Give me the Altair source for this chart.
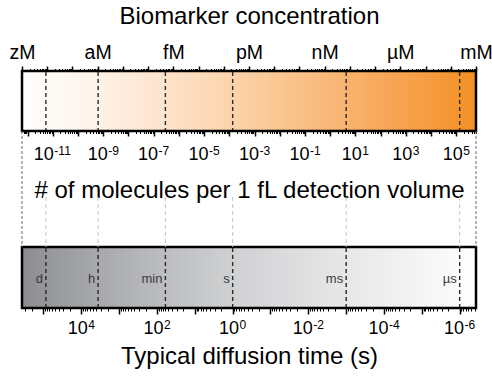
import json
import altair as alt
import pandas as pd

# ---------------- data ----------------
conc_units = ["zM", "aM", "fM", "pM", "nM", "µM", "mM"]
conc_unit_exps = [-21, -18, -15, -12, -9, -6, -3]
conc_domain = [1e-21, 1e-3]            # mol/L
molecules_per_M_fL = 6.022e8           # molecules in 1 fL at 1 M
mol_domain = [conc_domain[0] * molecules_per_M_fL, conc_domain[1] * molecules_per_M_fL]
mol_label_exps = [-11, -9, -7, -5, -3, -1, 1, 3, 5]
time_domain = [3.7e-7, 3.7e5]          # seconds (right end, left end)
time_label_exps = [4, 2, 0, -2, -4, -6]
time_marks = ["d", "h", "min", "s", "ms", "µs"]
time_mark_values = [86400, 3600, 60, 1, 1e-3, 1e-6]

FONT = "Liberation Sans"


def decades(lo, hi):
    return [10.0 ** e for e in range(lo, hi + 1)]


def minors(lo, hi, dmin, dmax):
    out = []
    for e in range(lo, hi + 1):
        for k in range(2, 10):
            v = k * 10.0 ** e
            if dmin <= v <= dmax:
                out.append(v)
    return out


# ---------------- layout (pixels in plot area) ----------------
W, H = 454, 237
OR_TOP, OR_BOT = 0, 60
GR_TOP, GR_BOT = 176, 237
MID_TOP = 126

conc_scale = alt.Scale(type="log", domain=conc_domain, nice=False)
mol_scale = alt.Scale(type="log", domain=mol_domain, nice=False)
time_scale = alt.Scale(type="log", domain=time_domain, reverse=True, nice=False)

ORANGE_STOPS = [(0.0, "#fefefe"), (0.15, "#fdf4eb"), (0.33, "#fde2c8"), (0.5, "#fbcfa2"),
                (0.67, "#f9b97a"), (0.83, "#f7a350"), (0.96, "#f5952f"), (1.0, "#f39023")]
GREY_STOPS = [(0.0, "#8b8c90"), (0.05, "#95969a"), (0.17, "#a8a9ac"), (0.32, "#bdbec1"),
              (0.46, "#cfd0d2"), (0.71, "#e7e7e8"), (0.96, "#fbfbfb"), (1.0, "#ffffff")]


def grad(stops):
    return alt.LinearGradient(gradient="linear",
                              stops=[alt.GradientStop(color=c, offset=o) for o, c in stops],
                              x1=0, x2=1, y1=0, y2=0)


# ---------------- bars ----------------
orange = alt.Chart(pd.DataFrame({"a": [conc_domain[0]], "b": [conc_domain[1]]})).mark_rect(
    fill=grad(ORANGE_STOPS), stroke="black", strokeWidth=2.5
).encode(x=alt.X("a:Q", scale=conc_scale, axis=None), x2="b:Q",
         y=alt.value(OR_TOP), y2=alt.value(OR_BOT))

grey = alt.Chart(pd.DataFrame({"a": [time_domain[1]], "b": [time_domain[0]]})).mark_rect(
    fill=grad(GREY_STOPS), stroke="black", strokeWidth=2.5
).encode(x=alt.X("a:Q", scale=time_scale, axis=None), x2="b:Q",
         y=alt.value(GR_TOP), y2=alt.value(GR_BOT))

marks_df = pd.DataFrame({"t": time_mark_values, "lab": time_marks})


def dashed(y0, y1, color, width):
    return alt.Chart(marks_df).mark_rule(
        color=color, strokeWidth=width, strokeDash=[4, 3]
    ).encode(x=alt.X("t:Q", scale=time_scale, axis=None),
             y=alt.value(y0), y2=alt.value(y1))


dash_or = dashed(OR_TOP + 1, OR_BOT - 1, "#2a2a2a", 1.4)
dash_gr = dashed(GR_TOP + 1, GR_BOT - 1, "#2a2a2a", 1.4)
dash_mid = dashed(MID_TOP, GR_TOP, "#c4c4c4", 1.0)

outer = alt.Chart(pd.DataFrame({"c": conc_domain})).mark_rule(
    color="#666666", strokeWidth=1, strokeDash=[3, 2]
).encode(x=alt.X("c:Q", scale=conc_scale, axis=None),
         y=alt.value(OR_BOT), y2=alt.value(GR_TOP))

mark_text = alt.Chart(marks_df).mark_text(
    align="right", baseline="alphabetic", dx=-3, fontSize=13, font=FONT, color="#3a3a3a"
).encode(x=alt.X("t:Q", scale=time_scale, axis=None), y=alt.value(212), text="lab:N")

# ---------------- axes ----------------
common = dict(domain=False, grid=False, tickColor="black", labelColor="black",
              labelFont=FONT, titleFont=FONT, titleColor="black", titleFontWeight="normal",
              labelOverlap=False, labelFlush=False)


def axis_layer(vals, scale, axis):
    return alt.Chart(pd.DataFrame({"v": vals})).mark_point(opacity=0).encode(
        x=alt.X("v:Q", scale=scale, axis=axis))


conc_lab = ["" for _ in range(-21, -2)]
for u, e in zip(conc_units, conc_unit_exps):
    conc_lab[e + 21] = u
conc_expr = json.dumps(conc_lab, ensure_ascii=False) + "[round(log(datum.value)/LN10)+21]"

ax_conc = axis_layer(conc_domain, conc_scale, alt.Axis(
    orient="top", values=decades(-21, -3), labelExpr=conc_expr, tickSize=5, tickWidth=1.5,
    labelFontSize=19.5, labelPadding=4, title="Biomarker concentration", titleFontSize=24,
    titleY=-48, titleBaseline="alphabetic", **common))
ax_conc_m = axis_layer(conc_domain, conc_scale, alt.Axis(
    orient="top", values=minors(-21, -4, *conc_domain), labels=False, tickSize=2.5,
    tickWidth=1, title=None, **common))

ax_mol = axis_layer(mol_domain, mol_scale, alt.Axis(
    orient="bottom", offset=OR_BOT - H, values=decades(-12, 5), labels=False,
    tickSize=5, tickWidth=1.5,
    title="# of molecules per 1 fL detection volume", titleFontSize=24,
    titleY=66, titleBaseline="alphabetic", **common))
ax_mol_m = axis_layer(mol_domain, mol_scale, alt.Axis(
    orient="bottom", offset=OR_BOT - H, values=minors(-13, 5, *mol_domain), labels=False,
    tickSize=2.5, tickWidth=1, title=None, **common))

ax_time = axis_layer(time_domain, time_scale, alt.Axis(
    orient="bottom", values=decades(-6, 5), labels=False, tickSize=6, tickWidth=1.5,
    title="Typical diffusion time (s)", titleFontSize=24,
    titleY=55, titleBaseline="alphabetic", **common))
ax_time_m = axis_layer(time_domain, time_scale, alt.Axis(
    orient="bottom", values=minors(-7, 5, *time_domain), labels=False, tickSize=3,
    tickWidth=1, title=None, **common))


# ---------------- power-of-ten tick labels (base + superscript) ----------------
BASE_SIZE, EXP_SIZE = 18, 12


def exp_width(s):
    return sum(0.333 * EXP_SIZE if ch == "-" else 0.556 * EXP_SIZE for ch in s)


def pow_labels(exps, scale, y_base, y_exp):
    base_w = 2 * 0.556 * BASE_SIZE
    groups = {}
    for e in exps:
        groups.setdefault(round(exp_width(str(e)), 2), []).append(e)
    layers = []
    for w, es in groups.items():
        total = base_w + 0.5 + w
        df = pd.DataFrame({"v": [10.0 ** e for e in es], "e": [str(e) for e in es]})
        x = alt.X("v:Q", scale=scale, axis=None)
        layers.append(alt.Chart(df).mark_text(
            align="left", baseline="alphabetic", dx=-total / 2, fontSize=BASE_SIZE,
            font=FONT, color="black", text="10").encode(x=x, y=alt.value(y_base)))
        layers.append(alt.Chart(df).mark_text(
            align="left", baseline="alphabetic", dx=-total / 2 + base_w + 0.5,
            fontSize=EXP_SIZE, font=FONT, color="black").encode(
            x=x, y=alt.value(y_exp), text="e:N"))
    return layers


mol_labels = pow_labels(mol_label_exps, mol_scale, 88.5, 83.5)
time_labels = pow_labels(time_label_exps, time_scale, 262.5, 257.5)

chart = alt.layer(
    orange, grey, dash_mid, outer, dash_or, dash_gr, mark_text,
    ax_conc, ax_conc_m, ax_mol, ax_mol_m, ax_time, ax_time_m,
    *mol_labels, *time_labels
).resolve_scale(x="independent").resolve_axis(x="independent").properties(
    width=W, height=H,
    padding={"left": 22, "top": 71, "right": 16, "bottom": 78},
    autosize=alt.AutoSizeParams(type="none"),
    background="white",
).configure_view(strokeWidth=0)

chart.save("out.html", embed_options={"renderer": "svg", "actions": False})
